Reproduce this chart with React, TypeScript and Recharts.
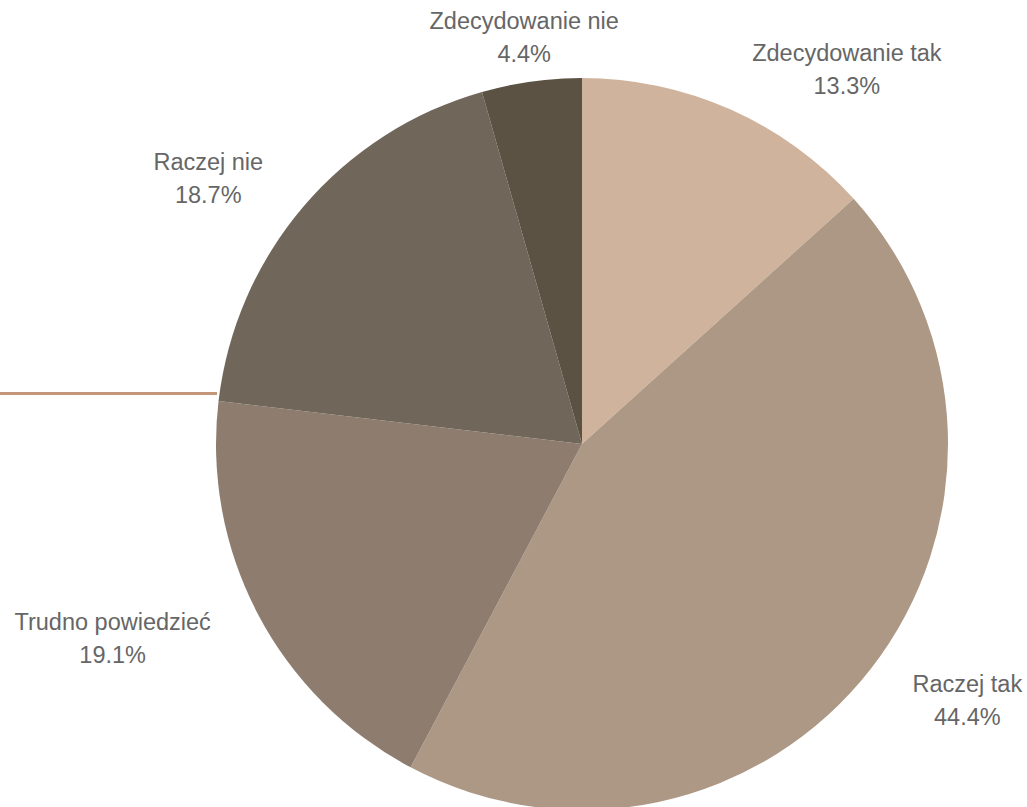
import { PieChart, Pie, Cell } from 'recharts';

const CATEGORIES = [
  'Zdecydowanie tak',
  'Raczej tak',
  'Trudno powiedzieć',
  'Raczej nie',
  'Zdecydowanie nie',
];

const SHARES = [13.3, 44.4, 19.1, 18.7, 4.4];

const COLORS = ['#CFB39C', '#AD9885', '#8E7D6E', '#70665A', '#5B5244'];

const RADIAN = Math.PI / 180;
const FONT_SIZE = 23.5;
const FONT_FAMILY = "'Liberation Sans', Arial, sans-serif";

const slices = CATEGORIES.map((name, i) => ({
  name,
  value: SHARES[i],
  color: COLORS[i],
}));

let ctx: CanvasRenderingContext2D | null = null;
function textWidth(s: string) {
  if (!ctx) ctx = document.createElement('canvas').getContext('2d');
  if (!ctx) return s.length * 11;
  ctx.font = `${FONT_SIZE}px ${FONT_FAMILY}`;
  return ctx.measureText(s).width;
}

type LabelProps = {
  cx?: number;
  cy?: number;
  midAngle?: number;
  outerRadius?: number;
  index?: number;
};

function SliceLabel({ cx = 0, cy = 0, midAngle = 0, outerRadius = 0, index = 0 }: LabelProps) {
  const cos = Math.cos(-midAngle * RADIAN);
  const sin = Math.sin(-midAngle * RADIAN);
  const x = cx + (outerRadius + 53) * cos;
  const y = cy + (outerRadius + 47) * sin;
  const d = slices[index];
  const w = textWidth(d.name);
  // the two lines are centred on each other; the block sits beside the anchor point
  const mid = Math.abs(cos) < 0.2 ? x : cos > 0 ? x + w / 2 : x - w / 2;

  return (
    <g fill="#666666" fontSize={FONT_SIZE} fontFamily={FONT_FAMILY} textAnchor="middle">
      <text x={mid} y={y - 14} dominantBaseline="central">
        {d.name}
      </text>
      <text x={mid} y={y + 19} dominantBaseline="central">
        {d.value.toFixed(1)}%
      </text>
    </g>
  );
}

export default function App() {
  return (
    <div
      style={{
        position: 'absolute',
        left: 0,
        top: 0,
        width: 1027,
        height: 807,
        background: '#ffffff',
        overflow: 'hidden',
      }}
    >
      {/* stray connector line on the left */}
      <div
        style={{
          position: 'absolute',
          left: 0,
          top: 392,
          width: 217,
          height: 3,
          background: '#C4967A',
        }}
      />
      <PieChart
        width={1027}
        height={807}
        margin={{ top: 0, right: 0, bottom: 0, left: 0 }}
        style={{ position: 'absolute', left: 0, top: 0 }}
      >
        <Pie
          data={slices}
          dataKey="value"
          nameKey="name"
          cx={582}
          cy={444}
          outerRadius={366}
          startAngle={90}
          endAngle={-270}
          stroke="none"
          labelLine={false}
          label={<SliceLabel />}
          isAnimationActive={false}
        >
          {slices.map((s, i) => (
            <Cell key={i} fill={s.color} />
          ))}
        </Pie>
      </PieChart>
    </div>
  );
}
